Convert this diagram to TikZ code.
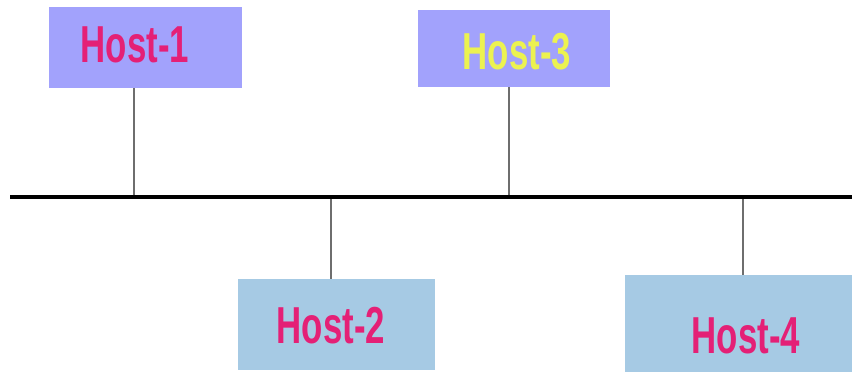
\documentclass[tikz,border=0pt]{standalone}
\usepackage{fontspec}
\setmainfont{Liberation Sans}
\definecolor{topfill}{RGB}{162,162,252}
\definecolor{botfill}{RGB}{166,202,228}
\definecolor{hostpink}{RGB}{228,32,118}
\definecolor{hostyellow}{RGB}{236,242,80}
\definecolor{droplinec}{RGB}{110,110,110}
\tikzset{
  topbox/.style={rectangle, fill=topfill, inner sep=0pt},
  botbox/.style={rectangle, fill=botfill, inner sep=0pt},
  hosttext/.style={inner sep=0pt, font=\fontsize{52}{52}\selectfont\bfseries},
  busline/.style={line width=3.2pt, black},
  dropline/.style={line width=2.4pt, droplinec}
}
\newcommand{\hostlbl}[1]{\scalebox{0.67}[1]{#1}}
\begin{document}
\begin{tikzpicture}[x=1pt,y=-1pt]
\useasboundingbox (0,0) rectangle (852,372);
\fill[white] (0,0) rectangle (852,372);
% boxes
\node[topbox, minimum width=193pt, minimum height=81pt] (h1) at (145.5,47.5) {};
\node[topbox, minimum width=192pt, minimum height=77pt] (h3) at (514,48.5) {};
\node[botbox, minimum width=197pt, minimum height=91pt] (h2) at (336.5,324.5) {};
\node[botbox, minimum width=227pt, minimum height=97pt] (h4) at (738.5,323.5) {};
% labels
\node[hosttext, text=hostpink] (t1) at (135,45) {\hostlbl{Host-1}};
\node[hosttext, text=hostyellow] (t3) at (517,52) {\hostlbl{Host-3}};
\node[hosttext, text=hostpink] (t2) at (331,326) {\hostlbl{Host-2}};
\node[hosttext, text=hostpink] (t4) at (746,336) {\hostlbl{Host-4}};
% bus
\coordinate (busL) at (10,197);
\coordinate (busR) at (852,197);
\coordinate (b1) at (134,197);
\coordinate (b3) at (509,197);
\coordinate (b2) at (331,197);
\coordinate (b4) at (743,197);
\draw[dropline] (h1.south -| b1) -- (b1);
\draw[dropline] (h3.south -| b3) -- (b3);
\draw[dropline] (b2) -- (h2.north -| b2);
\draw[dropline] (b4) -- (h4.north -| b4);
\draw[busline] (busL) -- (busR);
\end{tikzpicture}
\end{document}
